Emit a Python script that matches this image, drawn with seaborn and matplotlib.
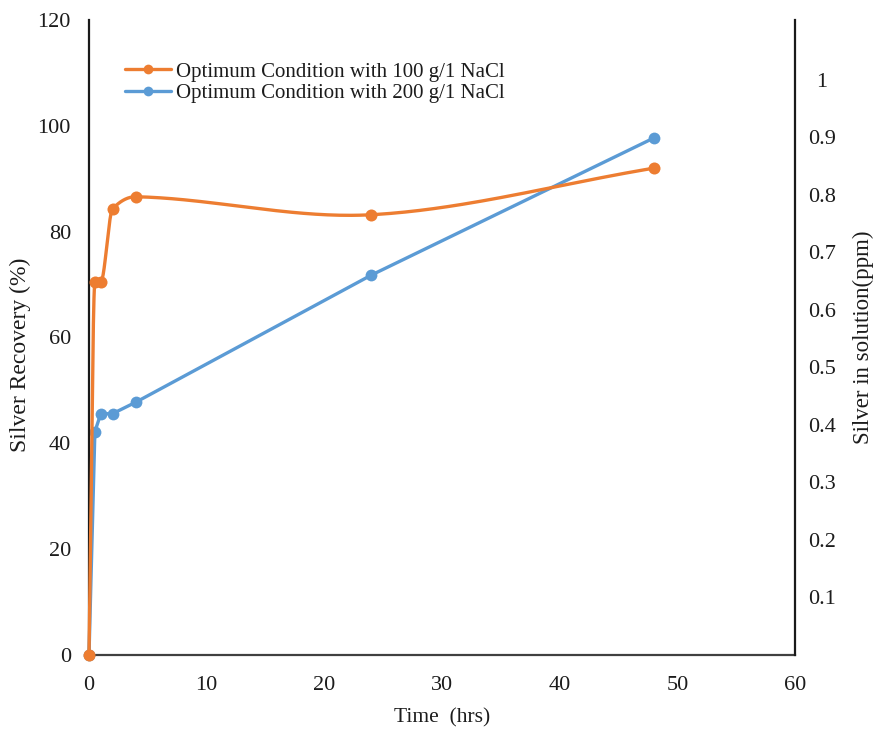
import numpy as np
import pandas as pd
import matplotlib
matplotlib.use("Agg")
import matplotlib.pyplot as plt
import seaborn as sns
from matplotlib.lines import Line2D

# Leaching time (hours) and silver recovery (%) for the two brine strengths
time_hrs = [0, 0.5, 1, 2, 4, 24, 48]
recovery_100 = [0, 70.5, 70.5, 84.3, 86.6, 83.2, 92.0]
recovery_200 = [0, 42.2, 45.6, 45.6, 47.8, 71.8, 97.7]

series_names = ["Optimum Condition with 100 g/1 NaCl",
                "Optimum Condition with 200 g/1 NaCl"]

x_ticks = [0, 10, 20, 30, 40, 50, 60]
y_ticks = [0, 20, 40, 60, 80, 100, 120]
ppm_ticks = [0.1, 0.2, 0.3, 0.4, 0.5, 0.6, 0.7, 0.8, 0.9, 1.0]
ppm_labels = ["0.1", "0.2", "0.3", "0.4", "0.5", "0.6", "0.7", "0.8", "0.9", "1"]

ORANGE = "#ED7D31"
BLUE = "#5B9BD5"
TEXT = "#1c1c1c"
SERIF = ["Liberation Serif", "DejaVu Serif"]


def smooth_curve(x, y, n=60):
    """Piecewise cubic Hermite through the points without overshooting rises."""
    x = np.asarray(x, float)
    y = np.asarray(y, float)
    h = np.diff(x)
    sec = np.diff(y) / h
    m = np.empty_like(y)
    m[0], m[-1] = sec[0], sec[-1]
    for i in range(1, len(x) - 1):
        a, b = sec[i - 1], sec[i]
        if a == 0 or b == 0:
            m[i] = 0.0
        elif a * b > 0:
            w1 = 2 * h[i] + h[i - 1]
            w2 = h[i] + 2 * h[i - 1]
            m[i] = (w1 + w2) / (w1 / a + w2 / b)
        else:
            m[i] = (y[i + 1] - y[i - 1]) / (x[i + 1] - x[i - 1])
    xs, ys = [], []
    for i in range(len(x) - 1):
        t = np.linspace(0, 1, n)
        h00 = 2 * t**3 - 3 * t**2 + 1
        h10 = t**3 - 2 * t**2 + t
        h01 = -2 * t**3 + 3 * t**2
        h11 = t**3 - t**2
        xs.append(x[i] + t * h[i])
        ys.append(h00 * y[i] + h10 * h[i] * m[i] + h01 * y[i + 1] + h11 * h[i] * m[i + 1])
    return np.concatenate(xs), np.concatenate(ys)


sns.set_style("white")
plt.rcParams["font.family"] = SERIF

fig = plt.figure(figsize=(8.77, 7.29), dpi=100)
ax = fig.add_axes([89 / 877, (729 - 655) / 729, (795 - 89) / 877, (655 - 20) / 729])

pts = pd.DataFrame({"time": time_hrs, "r100": recovery_100, "r200": recovery_200})
cx, cy = smooth_curve(time_hrs, recovery_100)
curve = pd.DataFrame({"time": cx, "r100": cy})

# 200 g/l series: straight segments with markers
sns.lineplot(data=pts, x="time", y="r200", ax=ax, color=BLUE, lw=2.4,
             marker="o", markersize=8.5, markeredgewidth=0, sort=False,
             estimator=None, zorder=2, clip_on=False)

# 100 g/l series: smoothed line with markers
sns.lineplot(data=curve, x="time", y="r100", ax=ax, color=ORANGE, lw=2.4,
             sort=False, estimator=None, zorder=3, clip_on=False)
sns.scatterplot(data=pts, x="time", y="r100", ax=ax, color=ORANGE, s=75,
                edgecolor=ORANGE, linewidth=0, zorder=4, clip_on=False)

ax.set_xlim(0, 60)
ax.set_ylim(0, 120)
ax.set_xticks(x_ticks)
ax.set_yticks(y_ticks)
ax.tick_params(axis="both", length=0, labelsize=16, colors=TEXT)
ax.tick_params(axis="y", pad=13)
ax.tick_params(axis="x", pad=15)
ax.set_xlabel("Time  (hrs)", fontsize=15.5, color=TEXT, labelpad=10)
ax.set_ylabel("Silver Recovery (%)", fontsize=17, color=TEXT, labelpad=5)
ax.yaxis.label.set_y(0.473)

for side in ["top", "right"]:
    ax.spines[side].set_visible(False)
ax.spines["left"].set_color("#1a1a1a")
ax.spines["left"].set_linewidth(1.6)
ax.spines["bottom"].set_color("#404040")
ax.spines["bottom"].set_linewidth(1.6)

# Secondary scale for silver concentration in solution
ax2 = ax.twinx()
ax2.set_ylim(0, 1.104)
ax2.set_yticks(ppm_ticks)
ax2.set_yticklabels(ppm_labels)
ax2.tick_params(axis="y", length=0, labelsize=16, colors=TEXT, pad=19.4)
for lab in ax2.get_yticklabels():
    lab.set_horizontalalignment("center")
ax2.set_ylabel("Silver in solution(ppm)", fontsize=16.5, color=TEXT, labelpad=12)
for side in ["top", "left", "bottom"]:
    ax2.spines[side].set_visible(False)
ax2.spines["right"].set_color("#1a1a1a")
ax2.spines["right"].set_linewidth(1.6)
ax2.grid(False)
ax.grid(False)

handles = [
    Line2D([], [], color=ORANGE, lw=2.4, marker="o", markersize=7, markeredgewidth=0),
    Line2D([], [], color=BLUE, lw=2.4, marker="o", markersize=7, markeredgewidth=0),
]
leg = ax.legend(handles, series_names, loc="upper left",
                bbox_to_anchor=(125 / 877, 1 - 62 / 729), bbox_transform=fig.transFigure,
                frameon=False, fontsize=15, handlelength=2.2, handletextpad=0.25,
                labelspacing=0.08, borderaxespad=0, borderpad=0)
for t in leg.get_texts():
    t.set_color(TEXT)

fig.savefig("out.png", dpi=100)
